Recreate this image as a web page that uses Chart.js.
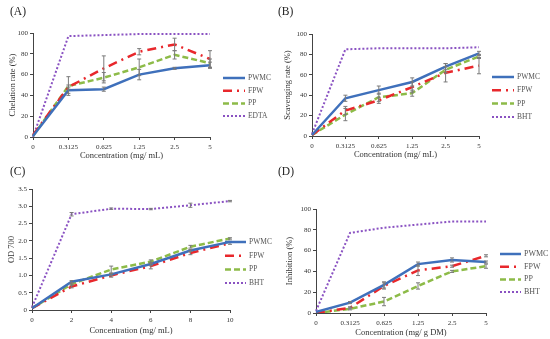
<!DOCTYPE html>
<html>
<head>
<meta charset="utf-8">
<script src="https://cdn.jsdelivr.net/npm/chart.js@4"></script>
<style>
  body { margin: 0; background: #fff; }
  #page { position: relative; width: 550px; height: 339px; overflow: hidden; }
  .panel { position: absolute; }
  .tag { position: absolute; font: 11.5px 'Liberation Serif', serif; color: #222; }
</style>
</head>
<body>
<div id="page">
  <div class="panel" style="left:0;top:0;width:275px;height:170px"><canvas id="chA"></canvas></div>
  <div class="panel" style="left:275px;top:0;width:275px;height:170px"><canvas id="chB"></canvas></div>
  <div class="panel" style="left:0;top:170px;width:275px;height:169px"><canvas id="chC"></canvas></div>
  <div class="panel" style="left:275px;top:170px;width:275px;height:169px"><canvas id="chD"></canvas></div>
  <div class="tag" style="left:10px;top:5px">(A)</div>
  <div class="tag" style="left:278px;top:5px">(B)</div>
  <div class="tag" style="left:10px;top:165px">(C)</div>
  <div class="tag" style="left:278px;top:165px">(D)</div>
</div>
<script>
// x categories
const concMg = ['0', '0.3125', '0.625', '1.25', '2.5', '5'];
const concC = ['0', '2', '4', '6', '8', '10'];

// (A) chelation rate
const chelPWMC = [1, 45, 46, 60, 66, 69];
const chelFPW = [2, 48, 66, 82, 89, 75];
const chelPP = [1, 49, 57, 67, 79, 71];
const chelEDTA = [0, 97, 98, 99, 99, 99];
const chelErrPWMC = [0, 3, 2, 5, 1, 3];
const chelErrFPW = [0, 2, 12, 3, 6, 8];
const chelErrPP = [0, 9, 5, 8, 4, 4];

// (B) scavenging rate
const scavPWMC = [1, 37, 45, 53, 68, 81];
const scavFPW = [1, 25, 35, 48, 62, 69];
const scavPP = [1, 21, 38, 42, 65, 78];
const scavBHT = [2, 85, 86, 86, 86, 87];
const scavErrPWMC = [0, 3, 4, 4, 3, 2];
const scavErrFPW = [0, 4, 3, 5, 9, 8];
const scavErrPP = [0, 6, 4, 3, 3, 2];

// (C) OD 700
const odPWMC = [0.05, 0.82, 1.03, 1.33, 1.72, 1.97];
const odFPW = [0.05, 0.68, 1.0, 1.27, 1.65, 1.93];
const odPP = [0.05, 0.75, 1.17, 1.4, 1.83, 2.07];
const odBHT = [0.08, 2.77, 2.93, 2.92, 3.03, 3.15];
const odErrPWMC = [0, 0.03, 0.03, 0.05, 0.03, 0.02];
const odErrFPW = [0, 0.04, 0.05, 0.08, 0.05, 0.03];
const odErrPP = [0, 0.03, 0.1, 0.05, 0.04, 0.02];
const odErrBHT = [0, 0.05, 0.02, 0.02, 0.06, 0.02];

// (D) inhibition
const inhPWMC = [1, 10, 27, 47, 51, 49];
const inhFPW = [0, 5, 26, 41, 45, 55];
const inhPP = [0, 4, 11, 26, 40, 45];
const inhBHT = [2, 77, 82, 85, 88, 88];
const inhErrPWMC = [0, 1, 3, 2, 2, 1];
const inhErrFPW = [0, 1, 3, 5, 1, 1];
const inhErrPP = [0, 1, 4, 3, 1, 2];

const BLUE = '#3f70bb', RED = '#e8282c', GREEN = '#8dbb48', PURPLE = '#8a52c2';
const SERIF = "'Liberation Serif', 'Times New Roman', serif";

function series(label, data, errors, kind) {
  const styles = {
    pwmc: { borderColor: BLUE, borderWidth: 2.5, borderDash: [] },
    fpw: { borderColor: RED, borderWidth: 2.5, borderDash: [9, 5, 2, 5] },
    pp: { borderColor: GREEN, borderWidth: 2.5, borderDash: [6, 3] },
    ref: { borderColor: PURPLE, borderWidth: 2, borderDash: [2, 2] },
  };
  return Object.assign({ label, data, errors, pointRadius: 0, tension: 0, fill: false }, styles[kind]);
}

// gray error bars, drawn through the chart scales
const errorBars = {
  id: 'errorBars',
  afterDatasetsDraw(chart) {
    const { ctx } = chart;
    const y = chart.scales.y;
    ctx.save();
    ctx.strokeStyle = '#7a7a7a';
    ctx.lineWidth = 1;
    chart.data.datasets.forEach((ds, i) => {
      if (!ds.errors) return;
      chart.getDatasetMeta(i).data.forEach((pt, j) => {
        const e = ds.errors[j];
        if (!e) return;
        const y1 = y.getPixelForValue(ds.data[j] - e);
        const y2 = y.getPixelForValue(ds.data[j] + e);
        ctx.beginPath();
        ctx.moveTo(pt.x, y1); ctx.lineTo(pt.x, y2);
        ctx.moveTo(pt.x - 2, y1); ctx.lineTo(pt.x + 2, y1);
        ctx.moveTo(pt.x - 2, y2); ctx.lineTo(pt.x + 2, y2);
        ctx.stroke();
      });
    });
    ctx.restore();
  },
};

// legend on the right with line samples
const sideLegend = {
  id: 'sideLegend',
  afterDraw(chart, args, opts) {
    const { ctx } = chart;
    ctx.save();
    ctx.font = (opts.size || 7.5) + 'px ' + SERIF;
    ctx.textBaseline = 'middle';
    chart.data.datasets.forEach((ds, i) => {
      const yy = opts.y + i * opts.dy;
      ctx.strokeStyle = ds.borderColor;
      ctx.lineWidth = ds.borderWidth;
      ctx.setLineDash(ds.borderDash);
      ctx.beginPath();
      ctx.moveTo(opts.x, yy); ctx.lineTo(opts.x + opts.len, yy);
      ctx.stroke();
      ctx.setLineDash([]);
      ctx.fillStyle = '#555';
      ctx.fillText(ds.label, opts.x + opts.len + 3, yy);
    });
    ctx.restore();
  },
};

function makeChart(id, labels, datasets, cfg) {
  return new Chart(document.getElementById(id), {
    type: 'line',
    data: { labels, datasets },
    options: {
      responsive: true,
      maintainAspectRatio: false,
      animation: false,
      layout: { padding: cfg.pad },
      plugins: { legend: { display: false }, tooltip: { enabled: false }, sideLegend: cfg.legend },
      scales: {
        x: {
          offset: false,
          border: { color: '#444', width: 1 },
          grid: { drawOnChartArea: false, tickLength: 3, color: '#444' },
          ticks: { font: { family: SERIF, size: 7 }, color: '#333', padding: 3, maxRotation: 0, autoSkip: false },
          title: { display: true, text: cfg.xTitle, font: { family: SERIF, size: 8.5 }, color: '#333', padding: 0 },
          afterFit: s => { s.height = cfg.xH; },
        },
        y: {
          min: 0, max: cfg.yMax,
          border: { color: '#444', width: 1 },
          grid: { drawOnChartArea: false, tickLength: 3, color: '#444' },
          ticks: { stepSize: cfg.yStep, font: { family: SERIF, size: 7 }, color: '#333', padding: 2 },
          title: { display: true, text: cfg.yTitle, font: { family: SERIF, size: 8.5 }, color: '#333', padding: 0 },
          afterFit: s => { s.width = cfg.yW; },
        },
      },
    },
    plugins: [errorBars, sideLegend],
  });
}

makeChart('chA', concMg, [
  series('PWMC', chelPWMC, chelErrPWMC, 'pwmc'),
  series('FPW', chelFPW, chelErrFPW, 'fpw'),
  series('PP', chelPP, chelErrPP, 'pp'),
  series('EDTA', chelEDTA, null, 'ref'),
], { pad: { left: 8, right: 65, top: 33, bottom: 9 }, yW: 25, xH: 24, yMax: 100, yStep: 10,
  xTitle: 'Concentration (mg/ mL)', yTitle: 'Chelation rate (%)',
  legend: { x: 223, y: 78, dy: 12.7, len: 22 } });

makeChart('chB', concMg, [
  series('PWMC', scavPWMC, scavErrPWMC, 'pwmc'),
  series('FPW', scavFPW, scavErrFPW, 'fpw'),
  series('PP', scavPP, scavErrPP, 'pp'),
  series('BHT', scavBHT, null, 'ref'),
], { pad: { left: 8, right: 71, top: 34, bottom: 10 }, yW: 29, xH: 24, yMax: 100, yStep: 10,
  xTitle: 'Concentration (mg/ mL)', yTitle: 'Scavenging rate (%)',
  legend: { x: 217, y: 77, dy: 13.3, len: 22 } });

makeChart('chC', concC, [
  series('PWMC', odPWMC, odErrPWMC, 'pwmc'),
  series('FPW', odFPW, odErrFPW, 'fpw'),
  series('PP', odPP, odErrPP, 'pp'),
  series('BHT', odBHT, odErrBHT, 'ref'),
], { pad: { left: 7, right: 45, top: 19, bottom: 3 }, yW: 25, xH: 26, yMax: 3.5, yStep: 0.5,
  xTitle: 'Concentration (mg/ mL)', yTitle: 'OD 700',
  legend: { x: 225, y: 72, dy: 13.7, len: 21 } });

makeChart('chD', concMg, [
  series('PWMC', inhPWMC, inhErrPWMC, 'pwmc'),
  series('FPW', inhFPW, inhErrFPW, 'fpw'),
  series('PP', inhPP, inhErrPP, 'pp'),
  series('BHT', inhBHT, null, 'ref'),
], { pad: { left: 10, right: 64, top: 39, bottom: 1 }, yW: 31, xH: 25, yMax: 100, yStep: 10,
  xTitle: 'Concentration (mg/ g DM)', yTitle: 'Inhibition (%)',
  legend: { x: 225, y: 84, dy: 12.7, len: 21, size: 8 } });
</script>
</body>
</html>
